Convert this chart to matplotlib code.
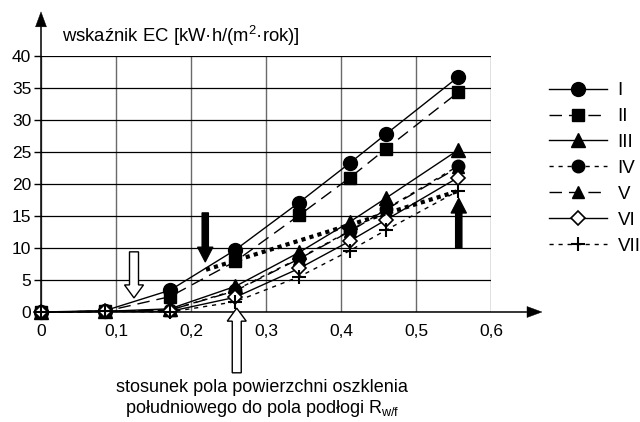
import matplotlib
matplotlib.use('Agg')
import matplotlib.pyplot as plt
from matplotlib.patches import FancyArrow

plt.rcParams['font.family'] = ['Liberation Sans', 'DejaVu Sans']
plt.rcParams['mathtext.fontset'] = 'custom'
plt.rcParams['mathtext.rm'] = 'Liberation Sans'
plt.rcParams['mathtext.it'] = 'Liberation Sans:italic'

# ---- data ----
ratio = [0, 0.085, 0.172, 0.259, 0.344, 0.412, 0.46, 0.556]
ec_I = [0, 0.2, 3.4, 9.7, 17.1, 23.3, 27.8, 36.7]
ec_II = [0, 0.1, 2.4, 7.9, 15.1, 21.0, 25.5, 34.3]
ec_III = [0, 0.1, 0.5, 4.0, 9.3, 14.1, 17.8, 25.3]
ec_IV = [0, 0.1, 0.3, 3.4, 8.4, 12.7, 16.1, 22.8]
ec_V = [0, 0.1, 0.3, 3.3, 8.3, 12.6, 16.0, 22.6]
ec_VI = [0, 0.1, 0.1, 2.3, 6.8, 11.1, 14.4, 21.0]
ec_VII = [0, 0.1, 0.0, 1.6, 5.5, 9.6, 12.8, 18.9]
series_names = ['I', 'II', 'III', 'IV', 'V', 'VI', 'VII']

trend_x = [0.22, 0.556]
trend_y = [6.6, 18.9]

x_ticks = [0, 0.1, 0.2, 0.3, 0.4, 0.5, 0.6]
x_tick_labels = ['0', '0,1', '0,2', '0,3', '0,4', '0,5', '0,6']
y_ticks = [0, 5, 10, 15, 20, 25, 30, 35, 40]

# arrows: x, y start, y end, filled?
arrow_x = [0.219, 0.557, 0.124, 0.261]
arrow_y0 = [15.5, 10.0, 9.4, -9.5]
arrow_y1 = [7.8, 17.8, 2.2, 0.6]
arrow_filled = [True, True, False, False]

# ---- figure ----
W, H = 640, 422
fig = plt.figure(figsize=(W / 100, H / 100), dpi=100)
L, R, T, B = 41, 491, 56, 312
ax = fig.add_axes([L / W, 1 - B / H, (R - L) / W, (B - T) / H])
ax.set_xlim(0, 0.6)
ax.set_ylim(0, 40)
px_x = 0.6 / (R - L)   # data units per pixel
px_y = 40 / (B - T)

ax.set_xticks(x_ticks)
ax.set_xticklabels(x_tick_labels)
ax.set_yticks(y_ticks)
ax.tick_params(axis='x', length=0, pad=9, labelsize=12.5)
ax.tick_params(axis='y', length=5, width=1, pad=2, labelsize=12.5)
ax.xaxis.grid(True, color='#6a6a6a', lw=1.0, zorder=0)
ax.yaxis.grid(True, color='black', lw=0.9, zorder=0)
ax.set_axisbelow(True)
for s in ax.spines.values():
    s.set_visible(False)

styles = [
    dict(ls='-', marker='o', ms=10, mfc='k'),
    dict(ls=(0, (9, 5)), marker='s', ms=8.5, mfc='k'),
    dict(ls='-', marker='^', ms=9.5, mfc='k'),
    dict(ls=(0, (3, 3.5)), marker='o', ms=9, mfc='k'),
    dict(ls=(0, (9, 5)), marker='^', ms=8, mfc='k'),
    dict(ls='-', marker='D', ms=7, mfc='white', mew=1.2),
    dict(ls=(0, (3, 3.5)), marker='+', ms=10.5, mfc='k', mew=1.5),
]
all_series = [ec_I, ec_II, ec_III, ec_IV, ec_V, ec_VI, ec_VII]
z_order = [5, 5, 5, 6, 4, 7, 8]
for name, vals, st, z in zip(series_names, all_series, styles, z_order):
    ax.plot(ratio, vals, color='k', mec='k', lw=1.0, label=name, zorder=z,
            clip_on=False, **st)

ax.plot(trend_x, trend_y, color='k', lw=3.0, ls=(0, (1, 1)),
        label='_nolegend_', zorder=9)

for x, y0, y1, filled in zip(arrow_x, arrow_y0, arrow_y1, arrow_filled):
    if filled:
        a = FancyArrow(x, y0, 0, y1 - y0, width=6.5 * px_x, head_width=15.5 * px_x,
                       head_length=15 * px_y, length_includes_head=True,
                       fc='k', ec='k', lw=0.8, zorder=10, clip_on=False)
    else:
        a = FancyArrow(x, y0, 0, y1 - y0, width=9 * px_x, head_width=19 * px_x,
                       head_length=13 * px_y, length_includes_head=True,
                       fc='white', ec='k', lw=1.0, zorder=10, clip_on=False)
    ax.add_patch(a)

# axis arrows
ax.add_patch(FancyArrow(0, 0, 0, 46.9, width=1.2 * px_x, head_width=11 * px_x,
                        head_length=15 * px_y, length_includes_head=True,
                        fc='k', ec='k', lw=0.3, clip_on=False, zorder=3))
ax.add_patch(FancyArrow(0, 0, 0.668, 0, width=1.2 * px_y, head_width=11 * px_y,
                        head_length=15 * px_x, length_includes_head=True,
                        fc='k', ec='k', lw=0.3, clip_on=False, zorder=3))

fig.text(62 / W, 1 - 42 / H, 'wskaźnik EC [kW·h/(m$^{\\mathregular{2}}$·rok)]',
         fontsize=13.3, va='baseline', ha='left')
fig.text(262 / W, 1 - 399 / H,
         'stosunek pola powierzchni oszklenia\npołudniowego do pola podłogi R$_{\\mathregular{w/f}}$',
         fontsize=13, ha='center', va='center', linespacing=1.1)

ax.legend(loc='upper left', bbox_to_anchor=(549 / W, 1 - 82 / H),
          bbox_transform=fig.transFigure, frameon=False, fontsize=13.5,
          handlelength=3.1, handletextpad=0.55, labelspacing=0.47,
          borderpad=0, borderaxespad=0, numpoints=1)

fig.savefig('out.png', dpi=100)
